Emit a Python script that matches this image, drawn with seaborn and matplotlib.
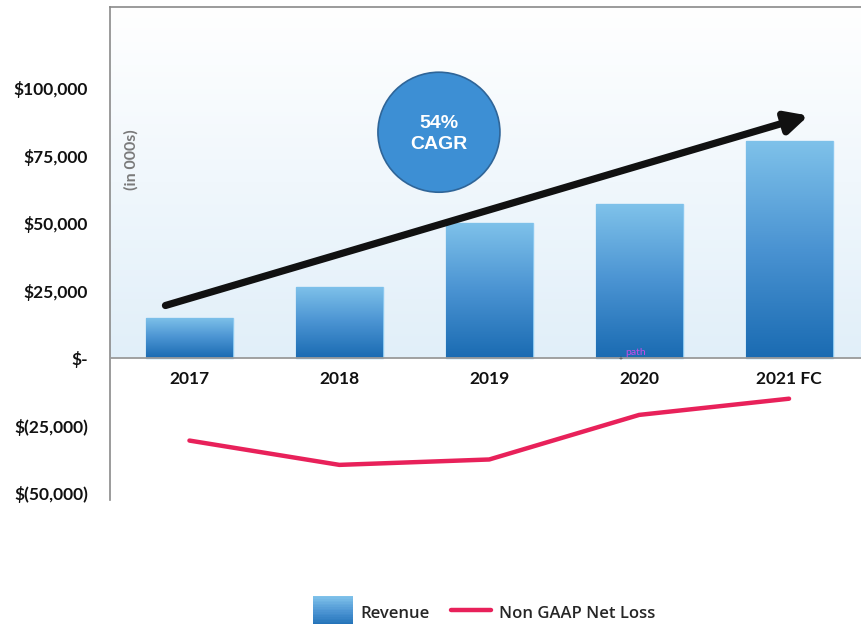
import numpy as np
import pandas as pd
import matplotlib
matplotlib.use("Agg")
import matplotlib.pyplot as plt
import seaborn as sns
from matplotlib.colors import LinearSegmentedColormap
from matplotlib.patches import Ellipse, Rectangle
from matplotlib.lines import Line2D
from matplotlib.legend_handler import HandlerBase

# Data (in 000s)
years = ["2017", "2018", "2019", "2020", "2021 FC"]
revenue = [15000, 26500, 50000, 57000, 80500]
net_loss = [-30500, -39500, -37500, -21000, -15000]

y_ticks = [100000, 75000, 50000, 25000, 0, -25000, -50000]
y_labels = ["$100,000", "$75,000", "$50,000", "$25,000", "$-", "$(25,000)", "$(50,000)"]

BAR_CMAP = LinearSegmentedColormap.from_list("bar", ["#1a6bb2", "#4a93d2", "#7fc2ea"])
BG_CMAP = LinearSegmentedColormap.from_list("bg", ["#e1eff9", "#ffffff"])
LINE_COLOR = "#e8215a"


class HandlerGradient(HandlerBase):
    def create_artists(self, legend, orig_handle, xdescent, ydescent, width, height, fontsize, trans):
        n = 20
        arts = []
        for i in range(n):
            r = Rectangle((-xdescent, -ydescent + height * 1.6 * i / n - height * 0.3),
                          width, height * 1.6 / n,
                          facecolor=BAR_CMAP(i / (n - 1)), edgecolor="none", transform=trans)
            arts.append(r)
        return arts


def main():
    sns.set_theme(style="white")
    plt.rcParams["font.family"] = ["Lato", "DejaVu Sans"]

    df = pd.DataFrame({"year": years, "revenue": revenue,
                       "pos": range(len(years)), "loss": net_loss})

    fig = plt.figure(figsize=(8.61, 6.24), dpi=100)
    ax = fig.add_axes([110 / 861, 1 - 500 / 624, 751 / 861, 493 / 624])

    xlim = (-0.53, 4.48)
    ylim = (-52500, 130000)

    # background gradient above zero
    grad = np.linspace(0, 1, 256).reshape(-1, 1)
    ax.imshow(grad, extent=[xlim[0], xlim[1], 0, ylim[1]], origin="lower",
              cmap=BG_CMAP, aspect="auto", zorder=0)

    sns.barplot(data=df, x="year", y="revenue", ax=ax, width=0.58,
                color="#4a93d2", edgecolor="#8cc8ef", linewidth=1, zorder=2)
    for p in ax.patches:
        x, y0 = p.get_x(), p.get_y()
        w, h = p.get_width(), p.get_height()
        im = ax.imshow(grad, extent=[x, x + w, y0, y0 + h], origin="lower",
                       cmap=BAR_CMAP, aspect="auto", zorder=2.5)
        im.set_clip_path(p)

    sns.lineplot(data=df, x="pos", y="loss", ax=ax, color=LINE_COLOR,
                 linewidth=3.2, zorder=3)

    ax.axhline(0, color="#9a9a9a", linewidth=1.3, zorder=4)

    # growth arrow
    ax.annotate("", xy=(4.13, 89800), xytext=(-0.16, 19500),
                arrowprops=dict(arrowstyle="-|>,head_length=1.1,head_width=0.55",
                                color="#111111", lw=5.2, shrinkA=0, shrinkB=0),
                zorder=5)

    # CAGR bubble
    circ = Ellipse((0.438, 0.746), 122 / 751, 120 / 493, transform=ax.transAxes,
                   facecolor="#3d8fd4", edgecolor="#2f6598", linewidth=1.2, zorder=6)
    ax.add_patch(circ)
    ax.text(0.438, 0.742, "54%\nCAGR", transform=ax.transAxes, ha="center", va="center",
            color="white", fontsize=14, fontweight="bold", linespacing=1.35,
            family=["Liberation Sans", "DejaVu Sans"], zorder=7)

    ax.text(0.029, 0.69, "(in 000s)", transform=ax.transAxes, rotation=90,
            ha="center", va="center", color="#7a7a7a", fontsize=11.5,
            fontweight="bold", zorder=7)

    ax.text(2.91, 600, "path", color="#c94ce8", fontsize=7.5, ha="left",
            va="bottom", zorder=7)
    ax.text(2.88, -200, "+", color="#444444", fontsize=5, ha="center",
            va="center", zorder=7)

    ax.set_xlim(xlim)
    ax.set_ylim(ylim)
    ax.set_yticks(y_ticks)
    ax.set_yticklabels(y_labels, fontsize=12.5, fontweight="bold", color="#111111")
    ax.tick_params(axis="y", length=0, pad=16)
    ax.tick_params(axis="x", length=0)
    ax.set_xticks([])
    for i, lab in enumerate(years):
        ax.text(i, -4800, lab, ha="center", va="top", fontsize=12.5,
                fontweight="bold", color="#111111", zorder=7)
    ax.set_xlabel("")
    ax.set_ylabel("")

    for s in ["right", "bottom"]:
        ax.spines[s].set_visible(False)
    for s in ["left", "top"]:
        ax.spines[s].set_color("#8a8a8a")
        ax.spines[s].set_linewidth(1.2)

    handles = [Rectangle((0, 0), 1, 1), Line2D([], [], color=LINE_COLOR, lw=3.2)]
    fig.legend(handles, ["Revenue", "Non GAAP Net Loss"],
               handler_map={Rectangle: HandlerGradient()},
               loc="center", bbox_to_anchor=(484 / 861, 1 - 612 / 624),
               ncol=2, frameon=False, handlelength=2.4,
               handleheight=1.5, columnspacing=1.3, handletextpad=0.45,
               prop={"family": ["Open Sans", "DejaVu Sans"], "weight": "semibold", "size": 12})

    fig.savefig("out.png", dpi=100)
    plt.close(fig)


if __name__ == "__main__":
    main()
